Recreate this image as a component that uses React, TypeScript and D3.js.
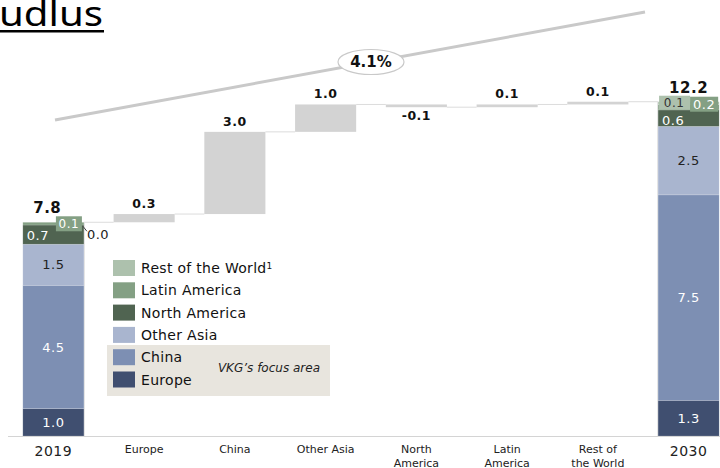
import React from "react";
import * as d3 from "d3";

const categories = ["2019", "Europe", "China", "Other Asia", "North America", "Latin America", "Rest of the World", "2030"];
const axisLabels = [["2019"], ["Europe"], ["China"], ["Other Asia"], ["North", "America"], ["Latin", "America"], ["Rest of", "the World"], ["2030"]];
const regions = ["Europe", "China", "Other Asia", "North America", "Latin America", "Rest of the World"];
const regionColors = ["#404f70", "#7d8fb3", "#a9b5cf", "#506451", "#84a084", "#adc1ad"];
const regionTextColors = ["#ffffff", "#ffffff", "#222222", "#ffffff", "#ffffff", "#333333"];
const values2019 = [1.0, 4.5, 1.5, 0.7, 0.1, 0.0];
const values2030 = [1.3, 7.5, 2.5, 0.6, 0.2, 0.1];
const deltas = [0.3, 3.0, 1.0, -0.1, 0.1, 0.1];
const totals = [7.8, 12.2];
const cagrLabel = "4.1%";
const focusLabel = "VKG\u2019s focus area";

const W = 720;
const H = 468;
const FONT = "'DejaVu Sans', Verdana, sans-serif";

export default function App() {
  const x = d3.scaleBand<string>().domain(categories).range([8, 734]).paddingInner(0.327).paddingOuter(0.1635);
  const y = d3.scaleLinear().domain([0, 13]).range([436, 436 - 13 * 27.4]);
  const bw = x.bandwidth();
  const f1 = d3.format(".1f");
  const fmt = (v: number) => f1(v).replace("\u2212", "-");

  const stack = (vals: number[]) => {
    let c = 0;
    return vals.map((v, i) => {
      const s = { i, v, y0: c, y1: c + v };
      c += v;
      return s;
    });
  };
  const s2019 = stack(values2019);
  const s2030 = stack(values2030);

  let cum = totals[0];
  const wf = deltas.map((d, i) => {
    const start = cum;
    cum += d;
    return { cat: categories[i + 1], d, start, end: cum };
  });

  const x19 = x("2019")!;
  const x30 = x("2030")!;

  const connectors: { x1: number; x2: number; v: number }[] = [];
  connectors.push({ x1: x19 + bw, x2: x(wf[0].cat)!, v: totals[0] });
  wf.forEach((b, i) => {
    const nx = i < wf.length - 1 ? x(wf[i + 1].cat)! : x30;
    connectors.push({ x1: x(b.cat)! + bw, x2: nx, v: b.end });
  });

  const renderStack = (segs: typeof s2019, bx: number) => (
    <g>
      {segs.map((s) =>
        s.v > 0 ? (
          <rect key={s.i} x={bx} y={y(s.y1)} width={bw} height={y(s.y0) - y(s.y1)} fill={regionColors[s.i]} stroke="#ffffff" strokeOpacity={0.25} strokeWidth={0.6} />
        ) : null
      )}
      {segs.map((s) => {
        const mid = (y(s.y0) + y(s.y1)) / 2;
        if (s.i <= 2) {
          return (
            <text key={"t" + s.i} x={bx + bw / 2} y={mid} dy="0.36em" textAnchor="middle" fontSize={13} fill={regionTextColors[s.i]} fontFamily={FONT} letterSpacing={0.5}>
              {fmt(s.v)}
            </text>
          );
        }
        return null;
      })}
    </g>
  );

  const top19 = y(totals[0]);
  const top30 = y(totals[1]);
  const na19 = s2019[3];
  const na30 = s2030[3];

  return (
    <svg width={W} height={H} viewBox={`0 0 ${W} ${H}`} style={{ position: "absolute", left: 0, top: 0, background: "#ffffff" }} fontFamily={FONT}>
      {/* title fragment */}
      <text x={-1} y={26} fontSize={35} fontFamily="'Noto Sans', 'Open Sans', sans-serif" fill="#000" textLength={104} lengthAdjust="spacingAndGlyphs">
        udlus
      </text>
      <rect x={0} y={30} width={104} height={2.5} fill="#000" />

      {/* CAGR line */}
      <line x1={55} y1={120} x2={645} y2={12} stroke="#c9c9c9" strokeWidth={3} />
      <ellipse cx={371} cy={62} rx={33} ry={12.5} fill="#ffffff" stroke="#c9c9c9" strokeWidth={1.2} />
      <text x={371} y={62} dy="0.36em" textAnchor="middle" fontSize={15} fontWeight="bold" fill="#111">
        {cagrLabel}
      </text>

      {/* axis line */}
      <line x1={8} x2={720} y1={y(0) + 0.5} y2={y(0) + 0.5} stroke="#d4d4d4" strokeWidth={1} />

      {/* connectors */}
      {connectors.map((c, i) => (
        <line key={"c" + i} x1={c.x1} x2={c.x2} y1={y(c.v)} y2={y(c.v)} stroke="#dcdcdc" strokeWidth={1} />
      ))}

      {/* side borders of total bars */}
      <line x1={x19 + bw + 0.5} x2={x19 + bw + 0.5} y1={top19} y2={y(0)} stroke="#e2e2e2" strokeWidth={1} />
      <line x1={x30 - 0.5} x2={x30 - 0.5} y1={top30} y2={y(0)} stroke="#e2e2e2" strokeWidth={1} />

      {/* waterfall bars */}
      {wf.map((b) => {
        const bx = x(b.cat)!;
        const hi = Math.max(b.start, b.end);
        const lo = Math.min(b.start, b.end);
        return (
          <g key={b.cat}>
            <rect x={bx} y={y(hi)} width={bw} height={Math.max(1.5, y(lo) - y(hi))} fill="#d3d3d3" />
            <text x={bx + bw / 2} y={b.d >= 0 ? y(hi) - 6 : y(lo) + 13} textAnchor="middle" fontSize={12.5} fontWeight="bold" fill="#111" letterSpacing={0.5}>
              {fmt(b.d)}
            </text>
          </g>
        );
      })}

      {/* stacked bars */}
      {renderStack(s2019, x19)}
      {renderStack(s2030, x30)}

      {/* small labels 2019 */}
      <text x={x19 + 4} y={(y(na19.y0) + y(na19.y1)) / 2 + 1} dy="0.36em" fontSize={13} fill="#ffffff" letterSpacing={0.5}>
        {fmt(na19.v)}
      </text>
      <rect x={x19 + bw - 28} y={y(s2019[4].y1) - 6} width={26} height={15} fill={regionColors[4]} />
      <text x={x19 + bw - 15} y={y(s2019[4].y1) + 1.5} dy="0.36em" textAnchor="middle" fontSize={12} fill="#ffffff" letterSpacing={0.5}>
        {fmt(s2019[4].v)}
      </text>
      <line x1={x19 + bw - 1} y1={y(s2019[5].y1) + 4} x2={x19 + bw + 3} y2={y(s2019[5].y1) + 9} stroke="#444" strokeWidth={1} />
      <text x={x19 + bw + 3} y={y(s2019[5].y1) + 12} dy="0.36em" fontSize={13} fill="#222" letterSpacing={0.5}>
        {fmt(s2019[5].v)}
      </text>

      {/* small labels 2030 */}
      <text x={x30 + 15} y={(y(na30.y0) + y(na30.y1)) / 2 + 2} dy="0.36em" textAnchor="middle" fontSize={13} fill="#ffffff" letterSpacing={0.5}>
        {fmt(na30.v)}
      </text>
      <rect x={x30 + 1} y={top30 - 6} width={31} height={14} fill={regionColors[5]} />
      <text x={x30 + 16} y={top30 + 1} dy="0.36em" textAnchor="middle" fontSize={12} fill="#333" letterSpacing={0.5}>
        {fmt(s2030[5].v)}
      </text>
      <rect x={x30 + 32} y={top30 - 5} width={bw - 33} height={15} fill={regionColors[4]} />
      <text x={x30 + 32 + (bw - 33) / 2} y={top30 + 2.5} dy="0.36em" textAnchor="middle" fontSize={13} fill="#ffffff" letterSpacing={0.5}>
        {fmt(s2030[4].v)}
      </text>

      {/* totals */}
      <text x={x19 + bw * 0.4} y={top19 - 9} textAnchor="middle" fontSize={15} fontWeight="bold" fill="#111" letterSpacing={0.5}>
        {fmt(totals[0])}
      </text>
      <text x={x30 + bw / 2} y={top30 - 9} textAnchor="middle" fontSize={15} fontWeight="bold" fill="#111" letterSpacing={0.5}>
        {fmt(totals[1])}
      </text>

      {/* x axis labels */}
      {axisLabels.map((lines, i) => {
        const cx = x(categories[i])! + bw / 2;
        const big = i === 0 || i === categories.length - 1;
        return (
          <text key={"xl" + i} x={cx} y={big ? 456 : 453} textAnchor="middle" fontSize={big ? 14 : 11} fill="#222" letterSpacing={big ? 0.5 : 0}>
            {lines.map((l, j) => (
              <tspan key={j} x={cx} dy={j === 0 ? 0 : 13.5}>
                {l}
              </tspan>
            ))}
          </text>
        );
      })}

      {/* legend */}
      <rect x={107} y={345} width={223} height={51} fill="#e8e5de" />
      {regions
        .map((r, i) => ({ r, i }))
        .reverse()
        .map((d, k) => {
          const ty = 260 + k * 22.3;
          return (
            <g key={d.r}>
              <rect x={113} y={ty} width={22} height={16} fill={regionColors[d.i]} />
              <text x={141} y={ty + 13} fontSize={14} fill="#111" letterSpacing={0.3}>
                {d.r}
                {d.i === 5 ? (
                  <tspan fontSize={9} dy={-4}>
                    1
                  </tspan>
                ) : null}
              </text>
            </g>
          );
        })}
      <text x={320} y={372} textAnchor="end" fontSize={12} fontStyle="italic" fill="#222">
        {focusLabel}
      </text>
    </svg>
  );
}
